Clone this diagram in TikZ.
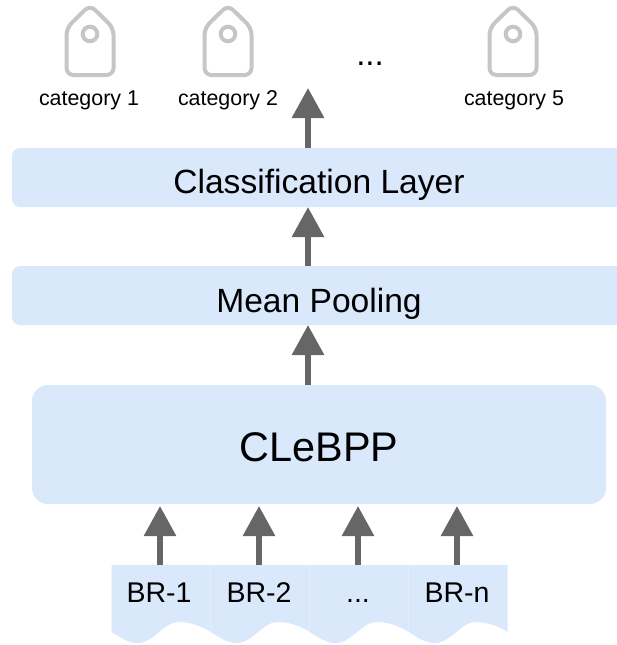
\documentclass[tikz,border=0pt]{standalone}
\usepackage{fontspec}
\setmainfont{Liberation Sans}
\usetikzlibrary{arrows.meta}
\definecolor{boxblue}{HTML}{DAE8FC}
\definecolor{arrowgray}{HTML}{666666}
\definecolor{taggray}{HTML}{C6C6C6}
\tikzset{
    layerbox/.style={fill=boxblue,rounded corners=8pt,inner sep=0pt,outer sep=0pt,text depth=0pt,text height=#1},
    flow/.style={line width=6pt,arrowgray,-{Triangle[length=30pt,width=31pt]}},
    catlabel/.style={font=\fontsize{21.4pt}{24pt}\selectfont,inner sep=0pt,anchor=base},
    brlabel/.style={font=\fontsize{28.5pt}{32pt}\selectfont,inner sep=0pt,outer sep=0pt,anchor=base},
    tagicon/.pic={
        \draw[taggray,line width=4pt,rounded corners=7pt] (-23.5,-6) -- (-23.5,41) -- (23.5,41) -- (23.5,-6) -- (0,-29) -- cycle;
        \draw[taggray,line width=4pt] (0,0) circle (7.3pt);
    }
}
\begin{document}
\begin{tikzpicture}[x=1pt,y=-1pt]

    \useasboundingbox (0,0) rectangle (616,645);

    % Categories
    \foreach \cx in {90,228,513} {
        \pic at (\cx,34) {tagicon};
    }
    \node[catlabel] (cat1) at (89,105) {category 1};
    \node[catlabel] (cat2) at (228,105) {category 2};
    \node[catlabel] (cat5) at (514,105) {category 5};
    \node[font=\fontsize{33pt}{36pt}\selectfont,inner sep=0pt,anchor=base] (dots) at (370,65) {...};

    % Layers
    \node[layerbox=31pt,minimum width=614pt,minimum height=59pt,font=\fontsize{33.6pt}{38pt}\selectfont] (classlayer) at (319,177.5) {Classification Layer};
    \node[layerbox=33pt,minimum width=614pt,minimum height=59pt,font=\fontsize{33.6pt}{38pt}\selectfont] (meanpool) at (319,295.5) {Mean Pooling};
    \node[layerbox=33pt,rounded corners=16pt,minimum width=574pt,minimum height=119pt,font=\fontsize{41.4pt}{46pt}\selectfont] (clebpp) at (319,444.5) {CLeBPP};

    % Input blocks
    \foreach \bx in {111.7,210.7,309.7,408.7} {
        \fill[boxblue] (\bx,565) -- (\bx+99,565) -- (\bx+99,632)
            .. controls (\bx+90,626) and (\bx+78,622) .. (\bx+67,622)
            .. controls (\bx+52,622) and (\bx+42,643) .. (\bx+26,643)
            .. controls (\bx+16,643) and (\bx+9,637.5) .. (\bx,632) -- cycle;
    }
    \node[brlabel] (br1) at (159,602) {BR-1};
    \node[brlabel] (br2) at (259,602) {BR-2};
    \node[brlabel] (br3) at (358,602) {...};
    \node[brlabel] (brn) at (457,602) {BR-n};
    \coordinate (br1top) at (160,565);
    \coordinate (br2top) at (259,565);
    \coordinate (br3top) at (358,565);
    \coordinate (brntop) at (457,565);

    % Arrows
    \foreach \n in {br1top,br2top,br3top,brntop} {
        \draw[flow,shorten >=2pt] (\n) -- (\n |- clebpp.south);
    }
    \coordinate (outtip) at (308,88);
    \draw[flow] (clebpp.north -| outtip) -- (meanpool.south -| outtip);
    \draw[flow] (meanpool.north -| outtip) -- (classlayer.south -| outtip);
    \draw[flow] (classlayer.north -| outtip) -- (outtip);

\end{tikzpicture}
\end{document}
